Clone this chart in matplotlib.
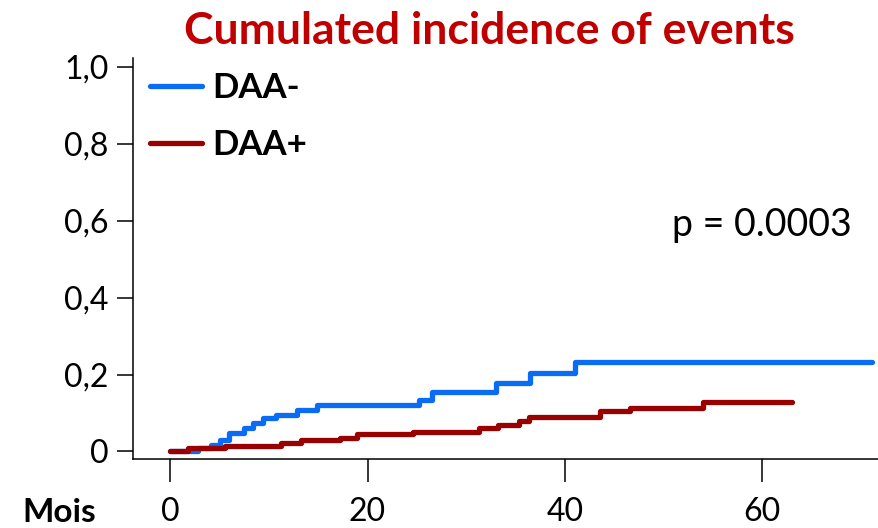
import matplotlib
matplotlib.use("Agg")
import matplotlib.pyplot as plt

plt.rcParams["font.family"] = ["Lato", "DejaVu Sans"]

# Cumulated incidence step curves (time in months, incidence as fraction)
daa_neg_time = [0, 2.8, 4.1, 5.0, 6.0, 7.5, 8.4, 9.4, 10.7, 12.8, 14.9,
                25.2, 26.5, 33.0, 36.5, 41.0, 71.1]
daa_neg_inc = [0, 0.008, 0.018, 0.029, 0.049, 0.060, 0.073, 0.086, 0.096,
               0.107, 0.120, 0.133, 0.155, 0.179, 0.205, 0.233, 0.233]

daa_pos_time = [0, 1.8, 5.5, 11.2, 13.3, 17.2, 18.9, 24.6, 31.3, 33.2,
                35.4, 36.4, 43.6, 46.6, 54.0, 63.0]
daa_pos_inc = [0, 0.008, 0.015, 0.022, 0.031, 0.036, 0.045, 0.051, 0.062,
               0.070, 0.080, 0.090, 0.106, 0.114, 0.129, 0.129]

series_labels = ["DAA-", "DAA+"]
x_ticks = [0, 20, 40, 60]
y_ticks = [0, 0.2, 0.4, 0.6, 0.8, 1.0]
y_tick_labels = ["0", "0,2", "0,4", "0,6", "0,8", "1,0"]
title = "Cumulated incidence of events"
p_text = "p = 0.0003"
x_label = "Mois"

W, H = 879, 528
fig = plt.figure(figsize=(W / 100, H / 100), dpi=100)
ax = fig.add_axes([133 / W, 1 - 459 / H, (879 - 133) / W, (459 - 58) / H])

blue = "#0A6CF5"
dark_red = "#990000"

ax.step(daa_neg_time, daa_neg_inc, where="post", color=blue, lw=3.8,
        solid_capstyle="round", label=series_labels[0])
ax.step(daa_pos_time, daa_pos_inc, where="post", color=dark_red, lw=3.8,
        solid_capstyle="round", label=series_labels[1])

ax.set_xlim(-3.78, 71.86)
ax.set_ylim(-0.0195, 1.0226)

for side in ("top", "right"):
    ax.spines[side].set_visible(False)
for side in ("left", "bottom"):
    ax.spines[side].set_linewidth(1.1)

ax.set_xticks(x_ticks)
ax.set_xticklabels([str(t) for t in x_ticks])
ax.set_yticks(y_ticks)
ax.set_yticklabels(y_tick_labels)
ax.tick_params(axis="x", length=16.5, width=1.1, pad=11, labelsize=23)
ax.tick_params(axis="y", length=11.5, width=1.1, pad=6, labelsize=23)

leg = ax.legend(loc="upper left", bbox_to_anchor=(150 / W, 1 - 72 / H),
                bbox_transform=fig.transFigure, frameon=False,
                borderaxespad=0, borderpad=0, handlelength=1.5,
                handletextpad=0.29, labelspacing=0.72,
                prop={"weight": "bold", "size": 25})

fig.text(489 / W, 1 - 31 / H, title, ha="center", va="center",
         color="#C00000", fontsize=32, fontweight="bold")
fig.text(762 / W, 1 - 225 / H, p_text, ha="center", va="center",
         fontsize=27)
fig.text(22 / W, 1 - 513 / H, x_label, ha="left", va="center",
         fontsize=24, fontweight="bold")

fig.savefig("out.png", dpi=100)
